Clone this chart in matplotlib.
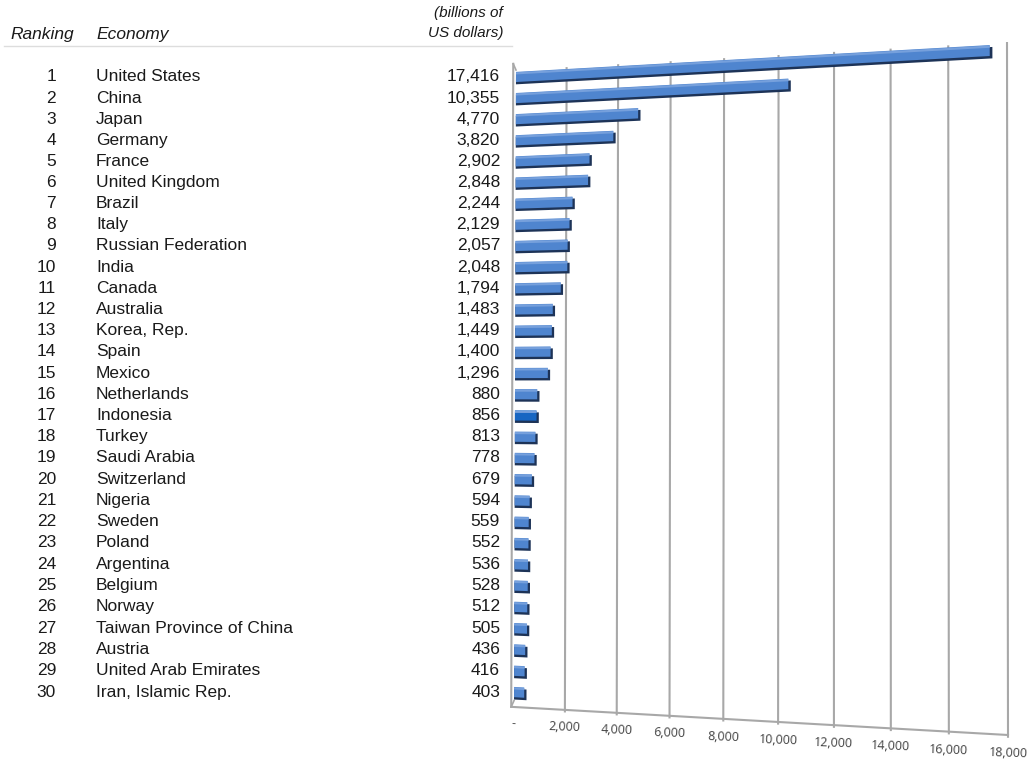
import numpy as np
import matplotlib
matplotlib.use("Agg")
import matplotlib.pyplot as plt
import matplotlib.transforms as mtransforms

plt.rcParams['font.family'] = ['Liberation Sans', 'DejaVu Sans']

# GDP 2014, billions of US dollars
ranks = list(range(1, 31))
economies = ["United States", "China", "Japan", "Germany", "France",
             "United Kingdom", "Brazil", "Italy", "Russian Federation", "India",
             "Canada", "Australia", "Korea, Rep.", "Spain", "Mexico",
             "Netherlands", "Indonesia", "Turkey", "Saudi Arabia", "Switzerland",
             "Nigeria", "Sweden", "Poland", "Argentina", "Belgium",
             "Norway", "Taiwan Province of China", "Austria",
             "United Arab Emirates", "Iran, Islamic Rep."]
gdp = [17416, 10355, 4770, 3820, 2902, 2848, 2244, 2129, 2057, 2048,
       1794, 1483, 1449, 1400, 1296, 880, 856, 813, 778, 679,
       594, 559, 552, 536, 528, 512, 505, 436, 416, 403]
xticks = list(range(0, 18001, 2000))
xtick_labels = ["-"] + [f"{t:,}" for t in xticks[1:]]
highlight = "Indonesia"


def homography(src, dst):
    a, b = [], []
    for (x, y), (u, v) in zip(src, dst):
        a.append([x, y, 1, 0, 0, 0, -u * x, -u * y]); b.append(u)
        a.append([0, 0, 0, x, y, 1, -v * x, -v * y]); b.append(v)
    h = np.linalg.solve(np.array(a, float), np.array(b, float))
    return np.append(h, 1.0).reshape(3, 3)


class PlaneTransform(mtransforms.Transform):
    """(value, row) -> page position on a tilted back wall."""
    input_dims = 2
    output_dims = 2
    is_separable = False
    has_inverse = True

    def __init__(self, H):
        super().__init__()
        self.H = H

    def transform_non_affine(self, values):
        values = np.asarray(values, float).reshape(-1, 2)
        p = np.column_stack([values, np.ones(len(values))]) @ self.H.T
        return p[:, :2] / p[:, 2:3]

    def inverted(self):
        return PlaneTransform(np.linalg.inv(self.H))


fig = plt.figure(figsize=(10.31, 7.62), dpi=100)
ax = fig.add_axes([0, 0, 1, 1])
ax.set_xlim(0, 1031)
ax.set_ylim(762, 0)
ax.set_autoscale_on(False)
ax.axis("off")

vmax = xticks[-1]
r0, r1 = 0.67, 30.7
H = homography([(0, r0), (vmax, r0), (0, r1), (vmax, r1)],
               [(516, 70), (1007, 42), (514, 707), (1008, 735)])
plane_only = PlaneTransform(H)
plane = plane_only + ax.transData

grid_c = "#a8a8a8"
# back wall gridlines (with a small tick below the floor edge)
for t in xticks[1:]:
    ax.plot([t, t], [r0, r1 + 0.12], color=grid_c, lw=1.5, transform=plane,
            solid_capstyle="butt")
# left side wall and floor edge
wall_v = -110
ax.plot([wall_v, wall_v], [r0 - 0.3, r1], color=grid_c, lw=1.5, transform=plane)
ax.plot([wall_v, 0], [r0 - 0.3, r0], color=grid_c, lw=1.2, transform=plane)
ax.plot([wall_v, 0], [r1, r1 - 0.3], color=grid_c, lw=1.2, transform=plane)
ax.plot([wall_v, vmax], [r1, r1], color=grid_c, lw=1.5, transform=plane)

# x tick labels under the floor edge
for t, lab in zip(xticks, xtick_labels):
    px, py = plane_only.transform([(t, r1 + 0.8)])[0]
    ax.text(px, py, lab, fontsize=9, color="#404040", ha="center",
            va="center", rotation=-2, rotation_mode="anchor",
            family=["Open Sans", "DejaVu Sans"])

# bars: dark underside, face, lighter top edge
face = ["#1766c2" if e == highlight else "#4f85cf" for e in economies]
ranks_a = np.array(ranks, float)
gdp_a = np.array(gdp, float)
ax.barh(ranks_a + 0.1, gdp_a + 90, height=0.5, left=0, color="#1d3357",
        transform=plane, zorder=3)
ax.barh(ranks_a, gdp_a, height=0.48, left=0, color=face,
        transform=plane, zorder=4)
ax.barh(ranks_a - 0.17, gdp_a, height=0.1, left=0, color="#76a0dc",
        transform=plane, zorder=5)

# table on the left, rows aligned with bar starts
row_y = plane_only.transform(np.column_stack([np.zeros(len(ranks)), ranks_a]))[:, 1]
txt_c = "#1a1a1a"
for rk, name, val, y in zip(ranks, economies, gdp, row_y):
    ax.text(56, y, str(rk), fontsize=12.5, color=txt_c, ha="right", va="center")
    ax.text(96, y, name, fontsize=12.5, color=txt_c, ha="left", va="center")
    ax.text(500, y, f"{val:,}", fontsize=12.5, color=txt_c, ha="right", va="center")

# header
ax.text(10, 35, "Ranking", fontsize=12.5, style="italic", color=txt_c,
        ha="left", va="center")
ax.text(96, 35, "Economy", fontsize=12.5, style="italic", color=txt_c,
        ha="left", va="center")
ax.text(503, 13, "(billions of", fontsize=11, style="italic", color=txt_c,
        ha="right", va="center")
ax.text(503, 33, "US dollars)", fontsize=11, style="italic", color=txt_c,
        ha="right", va="center")
ax.plot([4, 512], [46, 46], color="#dddddd", lw=1)

fig.savefig("out.png", dpi=100)
